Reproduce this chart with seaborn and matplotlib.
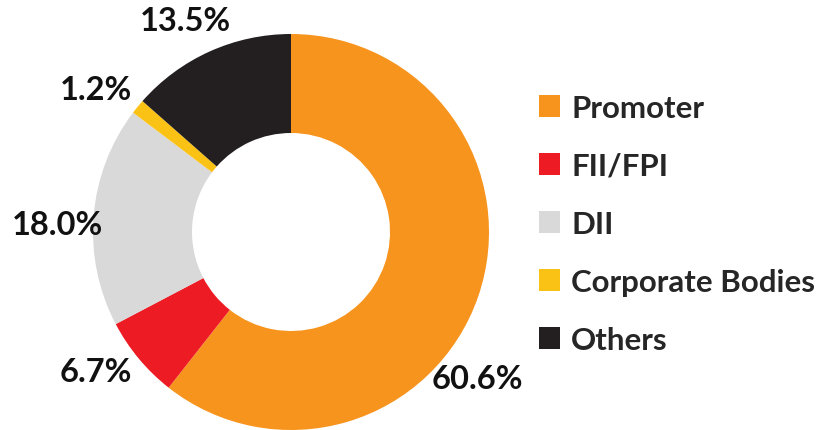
import matplotlib
matplotlib.use('agg')
import matplotlib.pyplot as plt
import seaborn as sns
from matplotlib.patches import Patch

sns.set_theme(style='white')
plt.rcParams['font.family'] = ['Lato', 'DejaVu Sans']

# data
categories = ['Promoter', 'FII/FPI', 'DII', 'Corporate Bodies', 'Others']
shares = [60.6, 6.7, 18.0, 1.2, 13.5]
colors = ['#F7941D', '#ED1C24', '#D9D9D9', '#FBC216', '#231F20']
# label positions (relative to donut centre, in radius units)
label_pos = [(0.94, -0.74), (-0.985, -0.705), (-1.18, 0.04), (-0.985, 0.72), (-0.535, 1.07)]

fig = plt.figure(figsize=(8.21, 4.31), dpi=100)
ax = fig.add_axes([0, 0, 1, 1])

ax.pie(shares, colors=colors, startangle=90, counterclock=False, radius=1.0,
       wedgeprops=dict(width=0.5, edgecolor='none', linewidth=0))

# pixel-based limits: centre at (291, 233), radius 198 px
r_px, cx, cy = 198, 291, 233
ax.set_xlim(-cx / r_px, (821 - cx) / r_px)
ax.set_ylim(-(431 - cy) / r_px, cy / r_px)
ax.set_aspect('auto')
ax.axis('off')

for v, (x, y) in zip(shares, label_pos):
    ax.text(x, y, f'{v:.1f}%', ha='center', va='center', fontsize=23.5,
            fontweight='bold', color='#111111')

handles = [Patch(facecolor=c, edgecolor='none') for c in colors]
fig.legend(handles, categories, loc='center left', bbox_to_anchor=(0.657, 0.478),
           frameon=False, prop=dict(size=22.5, weight='bold'),
           handlelength=0.67, handleheight=0.67,
           handletextpad=0.35, labelspacing=0.96, borderaxespad=0,
           borderpad=0)

fig.savefig('out.png', dpi=100)
